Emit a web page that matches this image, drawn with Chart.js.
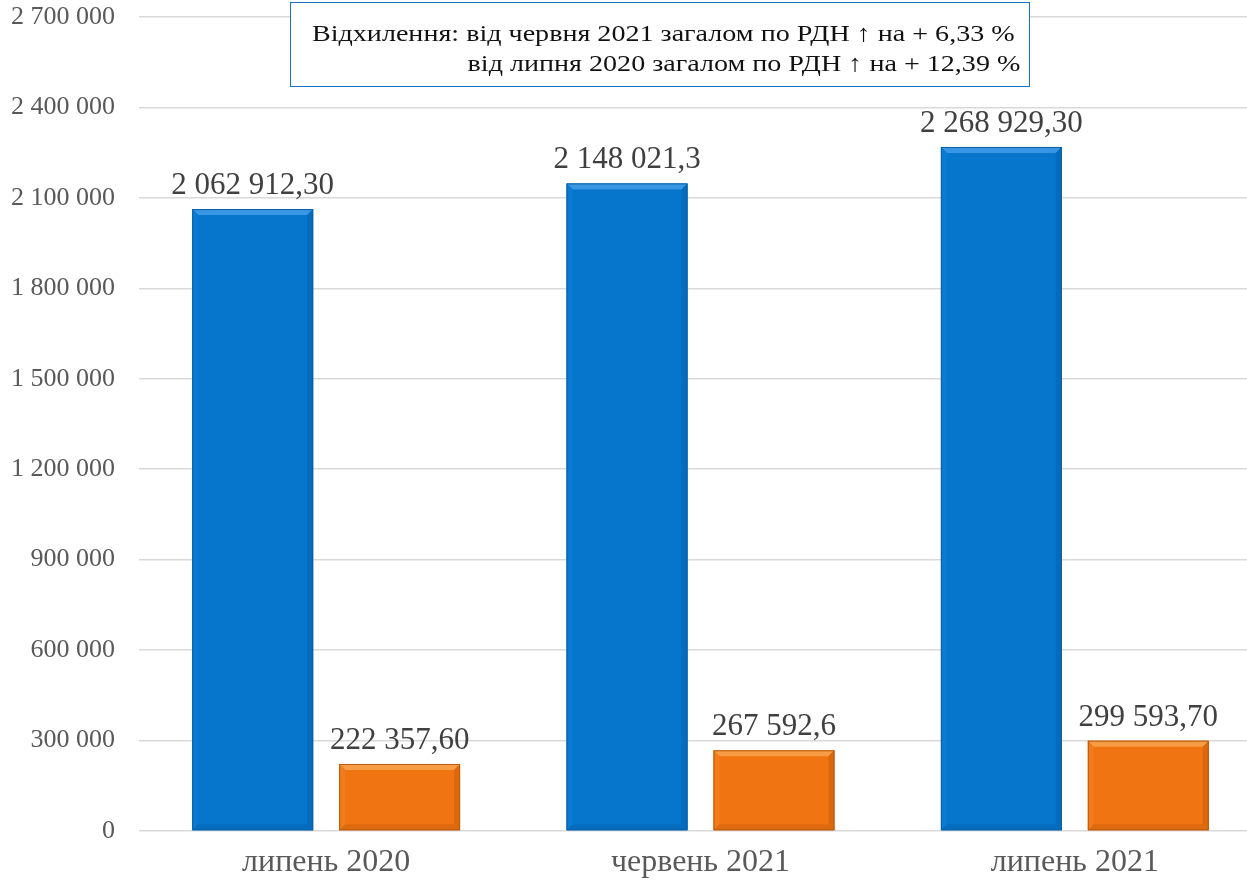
<!DOCTYPE html>
<html>
<head>
<meta charset="utf-8">
<script src="https://cdn.jsdelivr.net/npm/chart.js@4/dist/chart.umd.min.js"></script>
<style>
    html, body { margin: 0; padding: 0; overflow: hidden; background: #fff; }
    #wrap { position: relative; width: 1262px; height: 886px; }
    #note {
        position: absolute; left: 290px; top: 2px; width: 740px; height: 85px;
        box-sizing: border-box; border: 1.5px solid #1a72c6; background: #fff;
        padding: 15px 0 0 21px; white-space: nowrap;
    }
    #note .txt {
        font-family: 'Times New Roman', 'Liberation Serif', 'DejaVu Serif', serif; font-size: 24px;
        color: #111; line-height: 30px; transform: scaleX(1.17); transform-origin: left top;
    }
    #note .l2 { padding-left: 133px; }
</style>
</head>
<body>
<div id="wrap">
    <canvas id="rdnChart"></canvas>
    <div id="note">
        <div class="txt">
            <div>Відхилення: від червня 2021 загалом по РДН ↑ на + 6,33 %</div>
            <div class="l2">від липня 2020 загалом по РДН ↑ на + 12,39 %</div>
        </div>
    </div>
</div>
<script>
const months = ['липень 2020', 'червень 2021', 'липень 2021'];
const totalValues = [2062912.30, 2148021.3, 2268929.30];
const totalDecimals = [2, 1, 2];
const secondValues = [222357.60, 267592.6, 299593.70];
const secondDecimals = [2, 1, 2];
const yTicks = [0, 300000, 600000, 900000, 1200000, 1500000, 1800000, 2100000, 2400000, 2700000];

const serif = "'Times New Roman', 'Liberation Serif', 'DejaVu Serif', serif";

function spaced(intStr) {
    return intStr.replace(/\B(?=(\d{3})+(?!\d))/g, ' ');
}

function fmt(v, d) {
    const parts = v.toFixed(d).split('.');
    return spaced(parts[0]) + (parts[1] ? ',' + parts[1] : '');
}

// bevelled edges on every bar, plus the value label above it
const bevelLabels = {
    id: 'bevelLabels',
    afterDatasetsDraw(chart) {
        const ctx = chart.ctx;
        chart.data.datasets.forEach((ds, di) => {
            const meta = chart.getDatasetMeta(di);
            meta.data.forEach((bar, i) => {
                const p = bar.getProps(['x', 'y', 'base', 'width'], true);
                const l = p.x - p.width / 2, r = p.x + p.width / 2;
                const t = p.y, b = p.base, s = 6;
                const shades = ds.bevel;
                const poly = (pts, c) => {
                    ctx.beginPath();
                    ctx.moveTo(pts[0][0], pts[0][1]);
                    pts.slice(1).forEach(q => ctx.lineTo(q[0], q[1]));
                    ctx.closePath();
                    ctx.fillStyle = c;
                    ctx.fill();
                };
                ctx.save();
                poly([[l, t], [r, t], [r - s, t + s], [l + s, t + s]], shades.top);
                poly([[l, t], [l + s, t + s], [l + s, b - s], [l, b]], shades.left);
                poly([[r, t], [r, b], [r - s, b - s], [r - s, t + s]], shades.right);
                poly([[l, b], [l + s, b - s], [r - s, b - s], [r, b]], shades.bottom);
                ctx.strokeStyle = shades.edge;
                ctx.lineWidth = 1;
                ctx.strokeRect(l + 0.5, t + 0.5, p.width - 1, b - t - 1);

                ctx.font = '31px ' + serif;
                ctx.fillStyle = '#404040';
                ctx.textAlign = 'center';
                ctx.textBaseline = 'alphabetic';
                ctx.fillText(fmt(ds.data[i], ds.decimals[i]), p.x, t - 15);
                ctx.restore();
            });
        });
    }
};

const ctxRdn = document.getElementById('rdnChart').getContext('2d');
new Chart(ctxRdn, {
    type: 'bar',
    data: {
        labels: months,
        datasets: [{
            data: totalValues,
            decimals: totalDecimals,
            backgroundColor: '#0676cd',
            bevel: { top: '#3896e2', left: '#0a7bd2', right: '#056bbd', bottom: '#056cbe', edge: '#0a5fa6' },
            categoryPercentage: 0.785,
            barPercentage: 0.823
        }, {
            data: secondValues,
            decimals: secondDecimals,
            backgroundColor: '#f07412',
            bevel: { top: '#f69c44', left: '#f27c1c', right: '#dc680c', bottom: '#de6a0e', edge: '#b85a10' },
            categoryPercentage: 0.785,
            barPercentage: 0.823
        }]
    },
    options: {
        responsive: true,
        maintainAspectRatio: false,
        animation: false,
        layout: { padding: { top: 17, right: 0, bottom: 0, left: 0 } },
        plugins: {
            legend: { display: false },
            tooltip: { enabled: false }
        },
        scales: {
            x: {
                grid: { display: false },
                border: { display: false },
                ticks: {
                    font: { family: serif, size: 32 },
                    color: '#595959',
                    padding: 4
                },
                afterFit(scale) { scale.height = 55; }
            },
            y: {
                min: 0,
                max: 2700000,
                afterBuildTicks(scale) {
                    scale.ticks = yTicks.map(v => ({ value: v }));
                },
                grid: { color: '#d9d9d9', lineWidth: 1.5, drawTicks: false },
                border: { display: false },
                ticks: {
                    font: { family: serif, size: 26 },
                    color: '#595959',
                    padding: 24,
                    callback: v => spaced(String(v))
                },
                afterFit(scale) {
                    scale.width = 139;
                    scale.paddingTop = 0;
                    scale.paddingBottom = 0;
                }
            }
        }
    },
    plugins: [bevelLabels]
});
</script>
</body>
</html>
